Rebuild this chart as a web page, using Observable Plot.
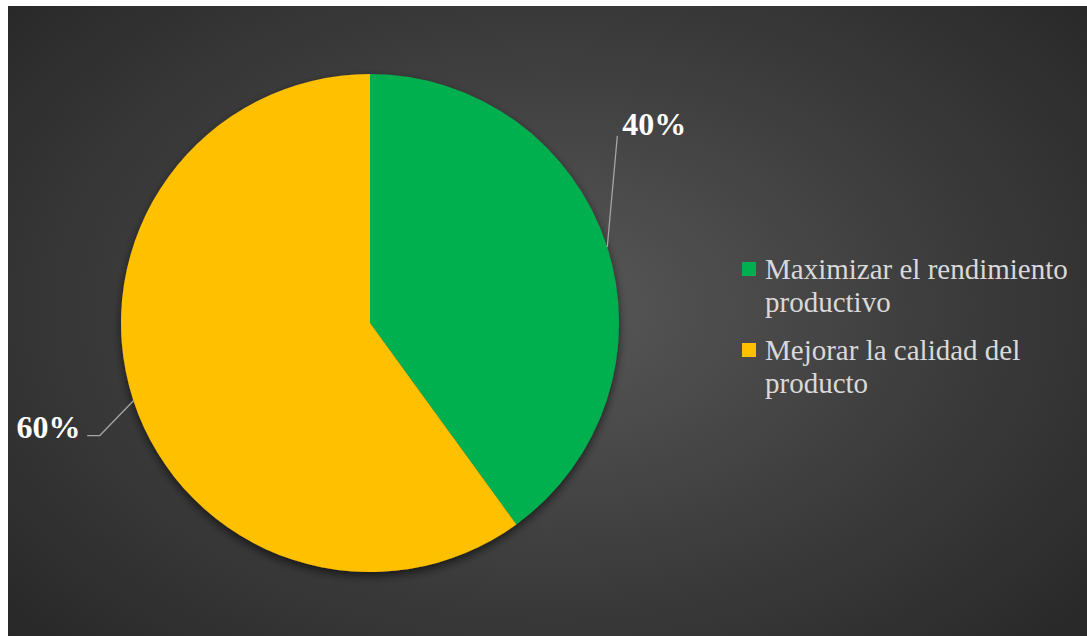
<!DOCTYPE html>
<html><head><meta charset="utf-8">
<script src="https://cdn.jsdelivr.net/npm/d3@7"></script>
<script src="https://cdn.jsdelivr.net/npm/@observablehq/plot@0.6"></script>
<style>
html,body{margin:0;padding:0;background:#fff;}
#wrap{position:absolute;left:8px;top:6px;width:1079px;height:630px;
 background:radial-gradient(ellipse 70% 80% at 50% 48%, #585858 0%, #3b3b3b 55%, #262626 100%);}
#legend{position:absolute;left:734px;top:247px;font-family:"Liberation Serif","Times New Roman",serif;font-size:29px;color:#d9d9d9;line-height:33px;}
.item{position:relative;padding-left:23px;margin-bottom:15px;width:330px;}
.sw{position:absolute;left:0;top:9px;width:14px;height:14px;}
</style></head>
<body>
<div id="wrap"><div id="chart"></div><div id="legend"></div></div>
<script>
const categories = ["Maximizar el rendimiento productivo", "Mejorar la calidad del producto"];
const values = [40, 60];
const labels = ["40%", "60%"];
const colors = ["#00b050", "#ffc000"];

const W = 1079, H = 630, cx = 362, cy = 317, R = 249;
const pie = d3.pie().sort(null).value(d => d.value);
const data = categories.map((c, i) => ({category: c, value: values[i], label: labels[i], color: colors[i]}));
const arcs = pie(data).map(a => {
  const mid = (a.startAngle + a.endAngle) / 2;
  return {...a, mx: Math.sin(mid), my: Math.cos(mid)};
});
// label layout offsets (data units relative to pie radius)
const leaders = [
  [{dx:0, dy:0}, {dx:0.04, dy:0.442}],
  [{dx:0, dy:0}, {dx:-0.136, dy:-0.141}, {dx:-0.185, dy:-0.141}]
];
const labelPos = [{dx:0.04, dy:0.442}, {dx:-0.185, dy:-0.141}];
const lineData = [];
arcs.forEach((a, i) => leaders[i].forEach((p, j) => lineData.push({s: i, x: a.mx + p.dx, y: a.my + p.dy})));
const textData = arcs.map((a, i) => ({x: a.mx + labelPos[i].dx, y: a.my + labelPos[i].dy, label: a.data.label, i}));

const pieMark = (index, scales) => {
  const g = d3.create("svg:g");
  const x0 = scales.x(0), y0 = scales.y(0), r = scales.x(1) - scales.x(0);
  const defs = g.append("defs");
  const f = defs.append("filter").attr("id", "sh").attr("x", "-20%").attr("y", "-20%").attr("width", "140%").attr("height", "140%");
  f.append("feDropShadow").attr("dx", 0).attr("dy", 4).attr("stdDeviation", 5).attr("flood-color", "#000").attr("flood-opacity", 0.6);
  const arc = d3.arc().innerRadius(0).outerRadius(r);
  g.append("g").attr("transform", `translate(${x0},${y0})`).attr("filter", "url(#sh)")
    .selectAll("path").data(arcs).join("path")
    .attr("d", arc).attr("fill", d => d.data.color);
  return g.node();
};

const chart = Plot.plot({
  width: W, height: H, margin: 0,
  style: {background: "transparent", overflow: "visible"},
  x: {domain: [-1, 1], range: [cx - R, cx + R], axis: null},
  y: {domain: [-1, 1], range: [cy + R, cy - R], axis: null},
  marks: [
    pieMark,
    Plot.line(lineData, {x: "x", y: "y", z: "s", stroke: "#a6a6a6", strokeWidth: 1.3}),
    Plot.text(textData.filter(d => d.i === 0), {x: "x", y: "y", text: "label", textAnchor: "start", dx: 5, dy: -12, fill: "#fff", fontSize: 32, fontWeight: "bold", fontFamily: "Liberation Serif, Times New Roman, serif"}),
    Plot.text(textData.filter(d => d.i === 1), {x: "x", y: "y", text: "label", textAnchor: "end", dx: -7, dy: -8, fill: "#fff", fontSize: 32, fontWeight: "bold", fontFamily: "Liberation Serif, Times New Roman, serif"})
  ]
});
document.getElementById("chart").appendChild(chart);

const lg = d3.select("#legend");
data.forEach(d => {
  const it = lg.append("div").attr("class", "item");
  it.append("div").attr("class", "sw").style("background", d.color);
  it.append("span").text(d.category);
});
</script>
</body></html>
